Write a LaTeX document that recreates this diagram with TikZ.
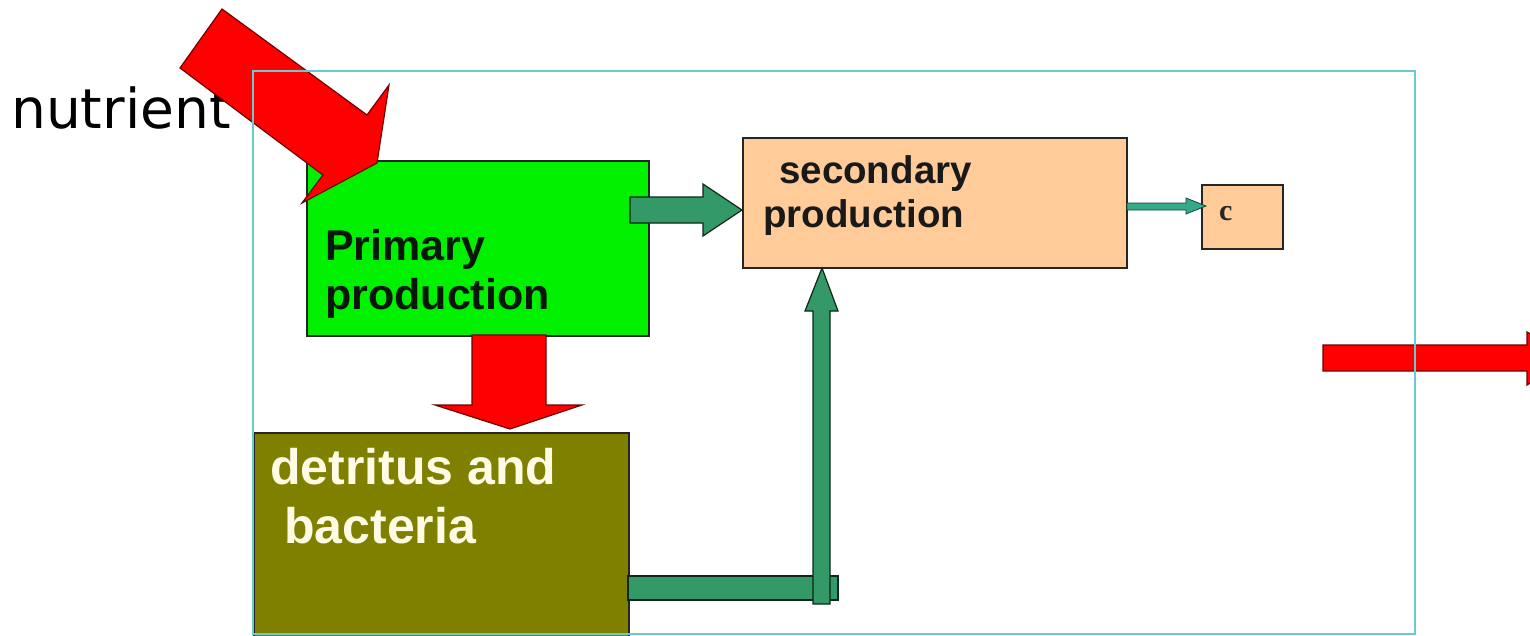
\documentclass[tikz,border=0pt]{standalone}
\usepackage{fontspec}
\setmainfont{Liberation Sans}
\newfontfamily\nutfont{DejaVu Sans}
\newfontfamily\serifb{Liberation Serif}
\usetikzlibrary{calc}
\definecolor{redA}{HTML}{FF0000}
\definecolor{redline}{HTML}{700000}
\definecolor{greenbox}{HTML}{00F000}
\definecolor{darkgreen}{HTML}{339966}
\definecolor{peach}{HTML}{FFCC99}
\definecolor{olivebox}{HTML}{808000}
\definecolor{frameteal}{HTML}{66CCCC}
\definecolor{carrow}{HTML}{33AA88}
\definecolor{cream}{HTML}{FFFBE4}
\definecolor{textdark}{HTML}{081808}
\begin{document}
\begin{tikzpicture}[x=1pt,y=-1pt,
  box/.style={draw=black!85, line width=1.5pt, inner sep=0pt, anchor=north west},
  redblock/.style={fill=redA, draw=redline, line width=1.2pt, line join=miter},
  greenblock/.style={fill=darkgreen, draw=black!75!darkgreen, line width=1.2pt},
  cblock/.style={fill=carrow, draw=black!60!carrow, line width=0.8pt},
  lbl/.style={anchor=base west, inner sep=0pt, font=\bfseries\fontsize{#1}{#1}\selectfont},
]
\useasboundingbox (0,0) rectangle (1530,635);
\clip (0,0) rectangle (1530,635);

% boxes
\node[box, fill=greenbox, minimum width=342pt, minimum height=175pt] (prim) at (306,160) {};
\node[box, fill=peach, minimum width=384pt, minimum height=130pt] (sec) at (742,137) {};
\node[box, fill=peach, minimum width=81pt, minimum height=64pt] (cbox) at (1201,184) {};
\node[box, fill=olivebox, minimum width=375pt, minimum height=220pt] (det) at (253,432) {};

% labels
\node[lbl=43, text=textdark] (primA) at (325,260) {Primary};
\node[lbl=43, text=textdark] (primB) at (325,309) {production};
\node[lbl=38.5, text=black!90] (secA) at (779,183) {secondary};
\node[lbl=38.5, text=black!90] (secB) at (763,227) {production};
\node[lbl=50, text=cream] (detA) at (270,484) {detritus and};
\node[lbl=50, text=cream] (detB) at (284,543) {bacteria};
\node[anchor=base west, inner sep=0pt, font=\serifb\bfseries\fontsize{30}{30}\selectfont, text=black!85] (cA) at (1219,220) {c};
\node[anchor=base west, inner sep=0pt, font=\nutfont\fontsize{55}{55}\selectfont] (nut) at (11,128) {nutrient};

% nutrient arrow into primary production
\draw[redblock] (222,9) -- (367,115) -- (389,85) -- (377,163) -- (302,203) -- (323,175) -- (180,68) -- cycle;

% primary -> detritus
\draw[redblock] (472,335) -- (546,335) -- (546,405) -- (582,405) -- (510,429) -- (435,405) -- (472,405) -- cycle;

% primary -> secondary
\draw[greenblock] (630,197) -- (703,197) -- (703,184) -- (742,210) -- (703,236) -- (703,223) -- (630,223) -- cycle;

% detritus -> secondary
\draw[greenblock] (628,576) rectangle (838,600);
\draw[greenblock] (813,604) -- (813,311) -- (805,311) -- (822,268) -- (838,311) -- (830,311) -- (830,604) -- cycle;

% secondary -> c
\draw[cblock] (1127,203) -- (1186,203) -- (1186,198) -- (1206,206) -- (1186,214) -- (1186,210) -- (1127,210) -- cycle;

% outgoing arrow on the right
\draw[redblock] (1323,345) -- (1527,345) -- (1527,332) -- (1570,358) -- (1527,385) -- (1527,371) -- (1323,371) -- cycle;

% frame
\node[draw=frameteal, line width=2pt, inner sep=0pt, anchor=north west, minimum width=1162pt, minimum height=563pt] (frame) at (252,70) {};
\end{tikzpicture}
\end{document}
